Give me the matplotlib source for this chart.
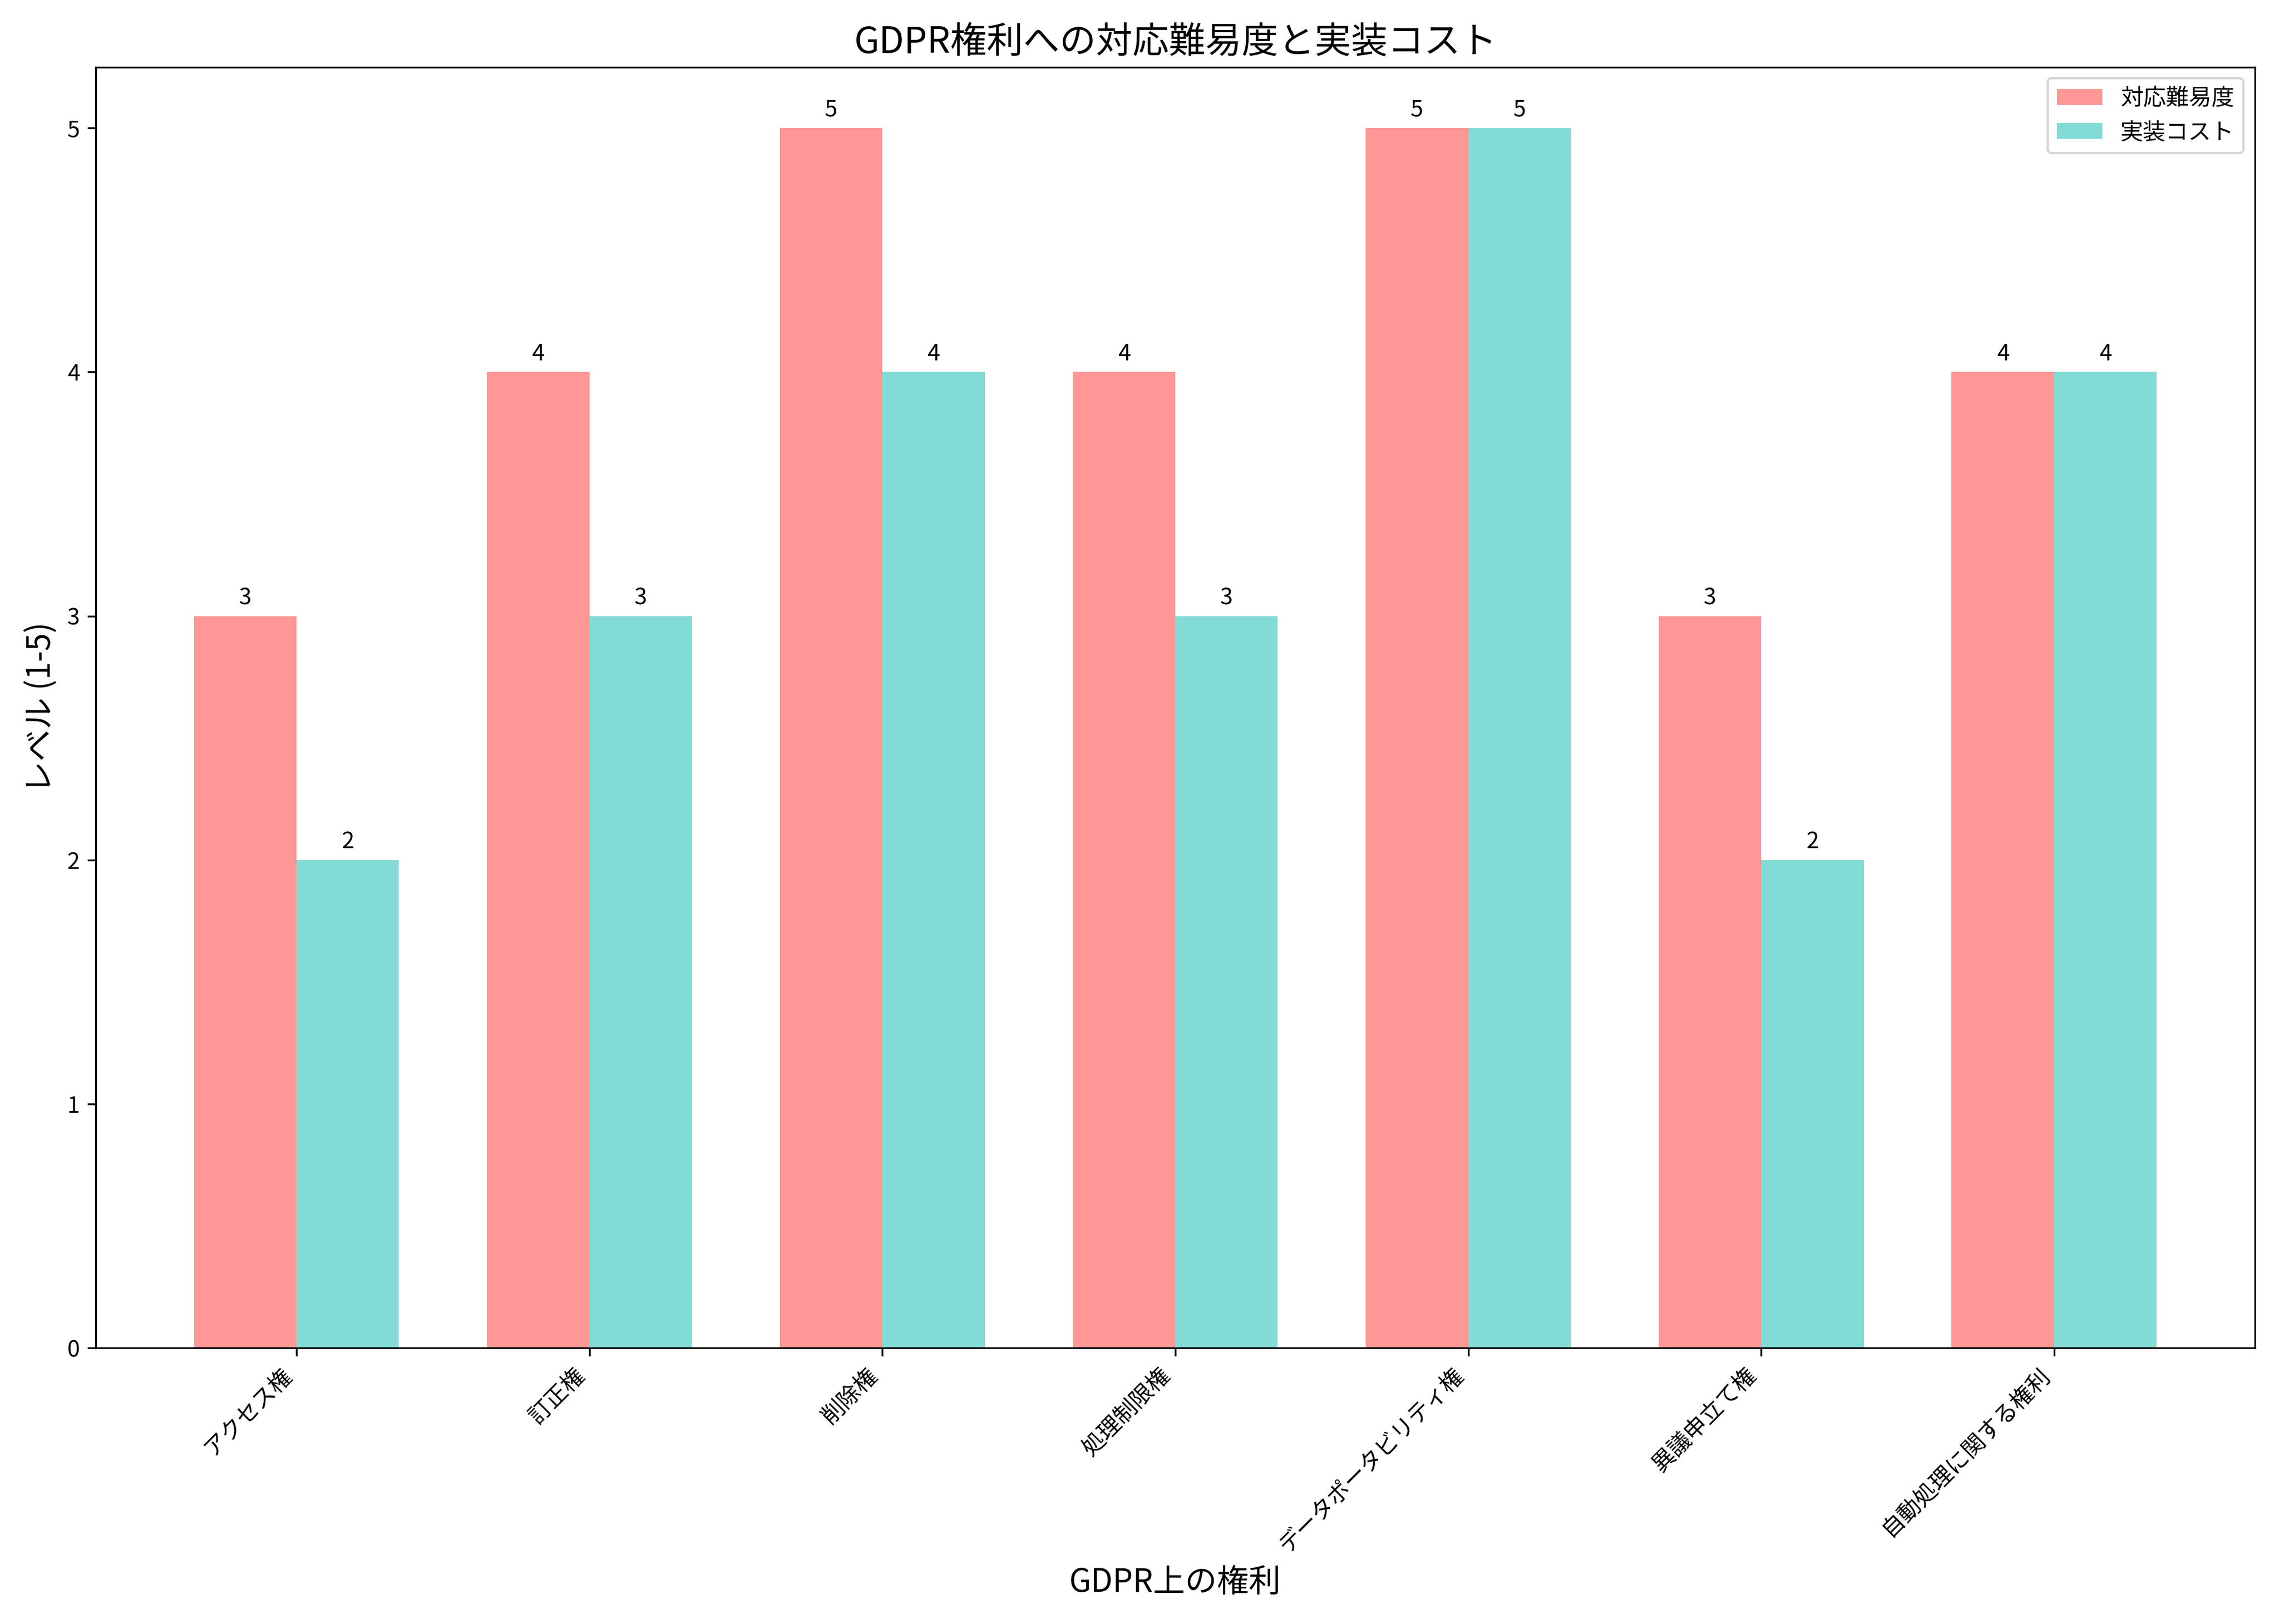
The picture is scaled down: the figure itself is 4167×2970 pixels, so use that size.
import numpy as np
import matplotlib
matplotlib.use("Agg")
import matplotlib.pyplot as plt

plt.rcParams['font.family'] = ['Noto Sans CJK JP', 'DejaVu Sans']

rights = ["アクセス権", "訂正権", "削除権", "処理制限権", "データポータビリティ権", "異議申立て権", "自動処理に関する権利"]
difficulty = [3, 4, 5, 4, 5, 3, 4]
cost = [2, 3, 4, 3, 5, 2, 4]

x = np.arange(len(rights))
w = 0.35

fig, ax = plt.subplots(figsize=(13.893, 9.9), dpi=300)
b1 = ax.bar(x - w/2, difficulty, w, label="対応難易度", color="#FF6B6B", alpha=0.7)
b2 = ax.bar(x + w/2, cost, w, label="実装コスト", color="#4ECDC4", alpha=0.7)

for bars in (b1, b2):
    for b in bars:
        h = b.get_height()
        ax.annotate(f"{h:.0f}", xy=(b.get_x() + b.get_width()/2, h), xytext=(0, 3),
                    textcoords="offset points", ha="center", va="bottom", fontsize=10)

ax.set_title("GDPR権利への対応難易度と実装コスト", fontsize=16)
ax.set_xlabel("GDPR上の権利", fontsize=14)
ax.set_ylabel("レベル (1-5)", fontsize=14)
ax.set_xticks(x)
ax.set_xticklabels(rights, rotation=45, ha="right")
ax.legend(loc="upper right")

plt.tight_layout()
plt.savefig("out.png", dpi=300)
